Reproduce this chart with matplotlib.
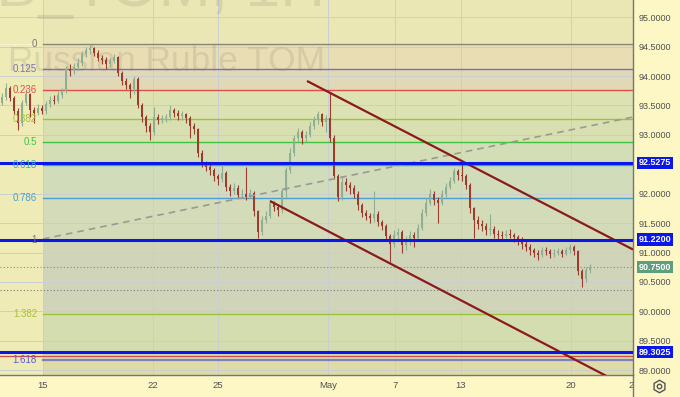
import matplotlib
matplotlib.use('Agg')
import matplotlib.pyplot as plt
import numpy as np
from matplotlib.transforms import blended_transform_factory
from matplotlib.lines import Line2D

plt.rcParams['font.family'] = ['Liberation Sans', 'DejaVu Sans']

# ---------------- data ----------------
opens = [93.55, 93.65, 93.80, 93.62, 93.40, 93.20, 93.55, 93.70, 93.42, 93.38,
         93.45, 93.40, 93.52, 93.60, 93.58, 93.68, 93.75, 94.12, 94.08, 94.15,
         94.22, 94.38, 94.44, 94.48, 94.40, 94.30, 94.28, 94.20, 94.25, 94.32,
         94.05, 93.92, 93.85, 93.78, 93.95, 93.50, 93.30, 93.15, 93.05, 93.30,
         93.25, 93.28, 93.30, 93.42, 93.38, 93.32, 93.35, 93.28, 93.15, 93.10,
         92.70, 92.52, 92.45, 92.40, 92.30, 92.25, 92.35, 92.12, 92.05, 92.10,
         91.98, 92.00, 91.95, 92.02, 91.70, 91.35, 91.55, 91.62, 91.85, 91.78,
         91.72, 92.05, 92.40, 92.70, 92.95, 93.05, 92.95, 93.00, 93.15, 93.25,
         93.35, 93.22, 93.28, 92.95, 92.30, 91.95, 92.20, 92.15, 92.10, 92.00,
         91.80, 91.68, 91.62, 91.58, 91.65, 91.52, 91.45, 91.28, 91.15, 91.30,
         91.35, 91.12, 91.20, 91.30, 91.25, 91.42, 91.68, 91.85, 92.00, 91.90,
         91.85, 92.00, 92.12, 92.22, 92.38, 92.32, 92.30, 92.15, 91.75, 91.55,
         91.48, 91.45, 91.38, 91.40, 91.32, 91.30, 91.28, 91.32, 91.30, 91.26,
         91.22, 91.15, 91.10, 91.05, 91.00, 90.95, 91.05, 91.02, 90.98, 91.00,
         91.02, 90.98, 91.05, 91.10, 91.02, 90.68, 90.55, 90.70]
closes = [93.65, 93.80, 93.62, 93.40, 93.20, 93.55, 93.70, 93.42, 93.38, 93.45,
          93.40, 93.52, 93.60, 93.58, 93.68, 93.75, 94.12, 94.08, 94.15, 94.22,
          94.38, 94.44, 94.48, 94.40, 94.30, 94.28, 94.20, 94.25, 94.32, 94.05,
          93.92, 93.85, 93.78, 93.95, 93.50, 93.30, 93.15, 93.05, 93.30, 93.25,
          93.28, 93.30, 93.42, 93.38, 93.32, 93.35, 93.28, 93.15, 93.10, 92.70,
          92.52, 92.45, 92.40, 92.30, 92.25, 92.35, 92.12, 92.05, 92.10, 91.98,
          92.00, 91.95, 92.02, 91.70, 91.35, 91.55, 91.62, 91.85, 91.78, 91.72,
          92.05, 92.40, 92.70, 92.95, 93.05, 92.95, 93.00, 93.15, 93.25, 93.35,
          93.22, 93.28, 92.95, 92.30, 91.95, 92.20, 92.15, 92.10, 92.00, 91.80,
          91.68, 91.62, 91.58, 91.65, 91.52, 91.45, 91.28, 91.15, 91.30, 91.35,
          91.12, 91.20, 91.30, 91.25, 91.42, 91.68, 91.85, 92.00, 91.90, 91.85,
          92.00, 92.12, 92.22, 92.38, 92.32, 92.30, 92.15, 91.75, 91.55, 91.48,
          91.45, 91.38, 91.40, 91.32, 91.30, 91.28, 91.32, 91.30, 91.26, 91.22,
          91.15, 91.10, 91.05, 91.00, 90.95, 91.05, 91.02, 90.98, 91.00, 91.02,
          90.98, 91.05, 91.10, 91.02, 90.68, 90.55, 90.70, 90.75]
highs = [93.72, 93.88, 93.84, 93.66, 93.45, 93.60, 93.78, 93.72, 93.48, 93.52,
         93.50, 93.58, 93.66, 93.68, 93.74, 93.80, 94.18, 94.20, 94.22, 94.30,
         94.42, 94.50, 94.54, 94.50, 94.44, 94.36, 94.32, 94.30, 94.38, 94.34,
         94.08, 93.96, 93.88, 94.00, 93.98, 93.55, 93.34, 93.20, 93.47, 93.36,
         93.34, 93.36, 93.50, 93.46, 93.42, 93.40, 93.38, 93.32, 93.20, 93.12,
         92.74, 92.56, 92.50, 92.44, 92.34, 92.52, 92.38, 92.16, 92.18, 92.14,
         92.08, 92.45, 92.08, 92.04, 91.72, 91.62, 91.70, 91.90, 91.88, 91.82,
         92.10, 92.46, 92.78, 93.00, 93.12, 93.08, 93.06, 93.22, 93.32, 93.40,
         93.38, 93.34, 93.73, 93.00, 92.34, 92.30, 92.26, 92.20, 92.14, 92.04,
         91.84, 91.72, 91.68, 92.05, 91.70, 91.56, 91.48, 91.32, 91.38, 91.42,
         91.38, 91.28, 91.36, 91.35, 91.48, 91.74, 91.92, 92.08, 92.04, 91.95,
         92.06, 92.18, 92.28, 92.44, 92.42, 92.52, 92.34, 92.18, 91.78, 91.62,
         91.56, 91.50, 91.65, 91.45, 91.38, 91.36, 91.38, 91.40, 91.34, 91.30,
         91.26, 91.20, 91.14, 91.08, 91.04, 91.10, 91.10, 91.06, 91.06, 91.08,
         91.06, 91.10, 91.14, 91.12, 91.04, 90.72, 90.76, 90.80]
lows = [93.50, 93.60, 93.58, 93.35, 93.08, 93.15, 93.50, 93.30, 93.20, 93.33,
        93.35, 93.36, 93.48, 93.52, 93.55, 93.62, 93.72, 94.00, 94.04, 94.10,
        94.18, 94.32, 94.38, 94.34, 94.25, 94.20, 94.12, 94.15, 94.22, 94.00,
        93.85, 93.78, 93.62, 93.70, 93.45, 93.22, 93.05, 92.91, 93.00, 93.18,
        93.20, 93.22, 93.26, 93.30, 93.25, 93.26, 93.20, 92.95, 93.02, 92.62,
        92.46, 92.38, 92.32, 92.22, 92.15, 92.20, 92.05, 91.96, 92.00, 91.92,
        91.93, 91.90, 91.92, 91.62, 91.25, 91.30, 91.50, 91.58, 91.70, 91.62,
        91.68, 91.92, 92.35, 92.64, 92.90, 92.85, 92.88, 92.96, 93.10, 93.18,
        93.15, 93.05, 92.88, 92.25, 91.88, 91.90, 92.05, 92.00, 91.92, 91.72,
        91.60, 91.55, 91.50, 91.52, 91.45, 91.38, 91.20, 90.84, 91.10, 91.22,
        91.00, 91.05, 91.12, 91.10, 91.20, 91.38, 91.62, 91.80, 91.80, 91.50,
        91.80, 91.95, 92.08, 92.18, 92.24, 92.22, 92.08, 91.68, 91.25, 91.40,
        91.36, 91.30, 91.30, 91.25, 91.20, 91.22, 91.24, 91.24, 91.18, 91.12,
        91.06, 91.02, 90.96, 90.92, 90.87, 90.92, 90.95, 90.90, 90.92, 90.95,
        90.92, 90.95, 91.00, 90.96, 90.62, 90.41, 90.50, 90.66]

tick_pos = [10.25, 37.75, 54.0, 81.5, 98.25, 114.75, 142.25, 157.25]
tick_labels = ["15", "22", "25", "May", "7", "13", "20", "2"]

price_ticks = [89.0, 89.5, 90.0, 90.5, 91.0, 91.5, 92.0, 92.5, 93.0, 93.5, 94.0, 94.5, 95.0]

fib_start = 10.25
fib_high = 94.54
fib_low = 91.22
fib_ratios = [0, 0.125, 0.236, 0.382, 0.5, 0.618, 0.786, 1, 1.382, 1.618]
fib_texts = ["0", "0.125", "0.236", "0.382", "0.5", "0.618", "0.786", "1", "1.382", "1.618"]

hlines_blue = [92.5275, 91.2200, 89.3025]
last_price = 90.75
gray_dotted_price = 90.357
extra_red_price = 89.235

channel_upper = ([76.25, 157.75], [93.917, 91.051])
channel_lower = ([67.0, 154.5], [91.876, 88.78])
dashed_line = ([10.25, 157.75], [91.23, 93.304])

# ---------------- figure ----------------
W, H = 680, 397
fig = plt.figure(figsize=(W / 100, H / 100), dpi=100)
fig.patch.set_facecolor('#fdf7c6')
ax = fig.add_axes([0, 22 / H, 633 / W, 375 / H])
ax.set_facecolor('#efebb7')
xmin, xmax = -0.5, 157.75
ymin, ymax = 88.917, 95.294
ax.set_xlim(xmin, xmax)
ax.set_ylim(ymin, ymax)

# fib zone fills
levels = [fib_high - r * (fib_high - fib_low) for r in fib_ratios]
zone_colors = ['#e9ddb3', '#e1d8b6', '#dde2b3', '#d8e0b2', '#d3deb6',
               '#d0dcba', '#d4dbb8', '#d0d5b9', '#d4ddb0']
for i in range(len(levels) - 1):
    ax.fill_between([fib_start, xmax], levels[i], levels[i + 1],
                    color=zone_colors[i], lw=0, zorder=1)
ax.fill_between([fib_start, xmax], levels[-1], ymin, color='#dfdba6', lw=0, zorder=1)
ax.fill_between([fib_start, xmax], levels[0], ymax, color='#ebe7b5', lw=0, zorder=1)

# grid
for p in price_ticks:
    ax.axhline(p, color='#c9cfd2', lw=0.7, zorder=1.5)
for t in tick_pos[:-1]:
    ax.axvline(t, color='#c9cfd2', lw=0.7, zorder=1.5)

# watermark
ax.text(167 / 633, (375 - 71) / 375, "Russian Ruble TOM", transform=ax.transAxes,
        fontsize=25.5, color=(0.45, 0.45, 0.40, 0.17), ha='center', va='baseline', zorder=1.6)
ax.text(325 / 633, (375 - 6) / 375, "USDRUB_TOM, 1H", transform=ax.transAxes,
        fontsize=45, color=(0.45, 0.45, 0.40, 0.17), ha='right', va='baseline', zorder=1.6)

# fib lines + labels
line_colors = ['#878778', '#7b6fb5', '#e0504a', '#9cc43a', '#3ec43e',
               '#2ab8a0', '#4a9fcf', '#878778', '#9cc43a', '#8080bb']
label_colors = ['#7a7a70', '#7b6fb5', '#e0504a', '#a6c23a', '#3ec43e',
                '#3aaea8', '#4a9fcf', '#7a7a70', '#a6c23a', '#5a5ac8']
tr_lab = blended_transform_factory(ax.transAxes, ax.transData)
for lv, lc, tc, tx in zip(levels, line_colors, label_colors, fib_texts):
    lw = 1.6 if tx == "1.618" else 1.0
    ax.plot([fib_start, xmax], [lv, lv], color=lc, lw=lw, zorder=2)
    ax.text(37 / 633, lv, tx, transform=tr_lab, ha='right', va='center',
            fontsize=7, color=tc, zorder=6)
ax.plot([xmin, 8.0], [levels[0], levels[0]], color='#ffffff', lw=0.8, ls=(0, (1, 1.5)), zorder=2)

# extra horizontal lines
ax.axhline(extra_red_price, color='#d04a4a', lw=0.9, zorder=2)
ax.axhline(last_price, color='#5e9e7e', lw=0.8, ls=(0, (1, 2)), zorder=2)
ax.axhline(gray_dotted_price, color='#7a7a7a', lw=0.8, ls=(0, (1, 2)), zorder=2)

# candles
x = np.arange(len(closes))
o = np.array(opens); c = np.array(closes); h = np.array(highs); l = np.array(lows)
up = c >= o
col = np.where(up, '#8fae93', '#9b3d2e')
ax.vlines(x, l, h, colors=col, lw=0.8, zorder=2.5)
ax.bar(x, np.maximum(np.abs(c - o), 0.015), bottom=np.minimum(o, c), width=0.55,
       color=col, lw=0, zorder=2.6)

# trend lines
ax.plot(*dashed_line, color='#9a9a92', lw=1.2, ls=(0, (4, 3)), zorder=3)
ax.plot(*channel_upper, color='#8b1a1a', lw=1.6, zorder=3.2, solid_capstyle='butt')
ax.plot(*channel_lower, color='#8b1a1a', lw=1.6, zorder=3.2, solid_capstyle='butt')
for p in hlines_blue:
    ax.axhline(p, color='#0b17e8', lw=2.2, zorder=4)

# axes styling
for s in ['top', 'left']:
    ax.spines[s].set_visible(False)
ax.spines['bottom'].set_color('#76766c')
ax.spines['right'].set_color('#76766c')
ax.spines['bottom'].set_linewidth(1.0)
ax.spines['right'].set_linewidth(1.0)
ax.yaxis.tick_right()
ax.set_yticks(price_ticks)
ax.set_yticklabels([f"{p:.4f}" for p in price_ticks])
ax.tick_params(axis='y', length=0, pad=4.3, labelsize=6.5, labelcolor='#505050')
ax.set_xticks(tick_pos)
ax.set_xticklabels(tick_labels)
ax.tick_params(axis='x', length=0, pad=4.5, labelsize=6.8, labelcolor='#505050')

# right price labels
box_items = [(p, f"{p:.4f}", '#0b17e8') for p in hlines_blue] + [(last_price, f"{last_price:.4f}", '#5e9e7e')]
for p, txt, fc in box_items:
    ax.text(1 + 6 / 633, p, txt, transform=tr_lab, ha='left', va='center',
            fontsize=6.5, color='white', fontweight='bold', clip_on=False, zorder=20,
            bbox=dict(boxstyle='square,pad=0.18', fc=fc, ec='none'))

# right axis border continued into bottom panel
fig.add_artist(Line2D([633 / W, 633 / W], [0, 22 / H], color='#76766c', lw=1.0))
# gear icon
fig.add_artist(Line2D([659 / W], [1 - 386 / H], marker='h', ms=9, mfc='none', mec='#555555', mew=1.0))
fig.add_artist(Line2D([659 / W], [1 - 386 / H], marker='o', ms=3.2, mfc='none', mec='#555555', mew=1.0))

fig.savefig('out.png', dpi=100, facecolor=fig.get_facecolor())
